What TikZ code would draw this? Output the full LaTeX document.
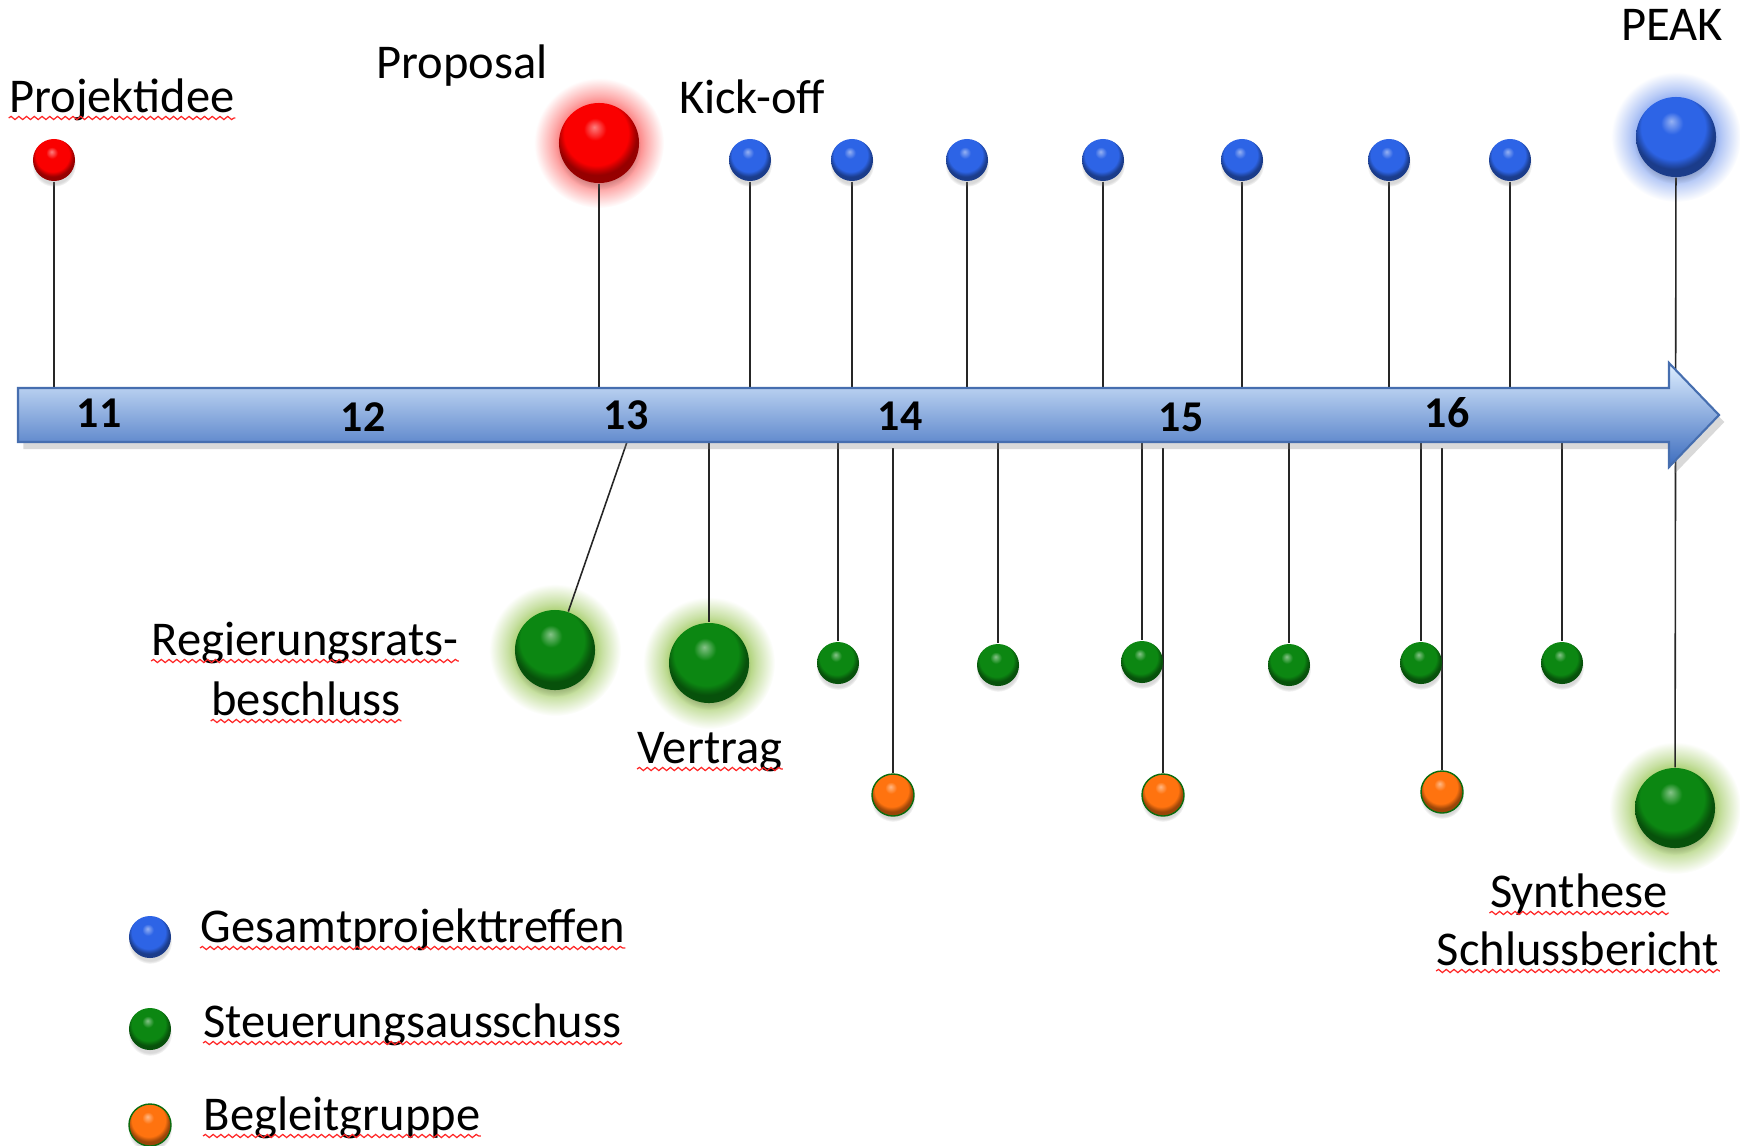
\documentclass[tikz,border=0pt]{standalone}
\usepackage{fontspec}
\setmainfont{Carlito}
\usetikzlibrary{shadows,backgrounds,decorations.pathmorphing}

\definecolor{mblue}{RGB}{45,100,230}
\definecolor{mgreen}{RGB}{12,135,18}
\definecolor{morange}{RGB}{255,115,15}
\definecolor{mred}{RGB}{250,0,0}
\definecolor{glowgreen}{RGB}{165,205,105}
\definecolor{arrowtop}{RGB}{222,238,255}
\definecolor{arrowmid}{RGB}{140,184,240}
\definecolor{arrowbot}{RGB}{60,108,190}
\definecolor{arrowedge}{RGB}{70,110,175}

\colorlet{ballc}{mblue}
\colorlet{glowc}{mblue}
% glossy ball and soft halo, both follow the current colour
\pgfdeclareradialshading[ballc]{gloss}{\pgfpoint{-3bp}{10bp}}{color(0bp)=(ballc!50!white); color(7bp)=(ballc); color(20bp)=(ballc); color(23bp)=(ballc!75!black); color(25bp)=(ballc!60!black); color(50bp)=(ballc!60!black)}
\pgfdeclareradialshading[glowc]{halo}{\pgfpoint{0bp}{0bp}}{color(0bp)=(glowc); color(14bp)=(glowc); color(18bp)=(glowc!60!white); color(25bp)=(white); color(50bp)=(white)}

\tikzset{
  knob/.style={circle, inner sep=0pt, shade, shading=gloss, /utils/exec={\colorlet{ballc}{#1}},
    circular drop shadow={shadow xshift=0pt, shadow yshift=-1.3pt, opacity=0.3, shadow scale=1.05}},
  smallsize/.style={minimum size=0.42cm},
  bigsize/.style={minimum size=0.8cm},
  rim/.style={draw=mgreen!80!black, line width=0.4pt},
  halo/.style={shade, shading=halo, /utils/exec={\colorlet{glowc}{#1}}},
  stem/.style={line width=0.45pt, black!85},
  lbl/.style={inner sep=0pt, anchor=base, font=\fontsize{13.8}{16}\selectfont},
  num/.style={inner sep=0pt, font=\bfseries\fontsize{12.5}{14}\selectfont},
  squig/.style={red!85, line width=0.35pt, decorate, decoration={snake, amplitude=0.45pt, segment length=2.2pt}}
}

\begin{document}
\begin{tikzpicture}[x=0.01cm, y=-0.01cm]
	\useasboundingbox (0,0) rectangle (1740,1145);

	% time axis
	\path[draw=arrowedge, line width=0.6pt, top color=arrowtop, middle color=arrowmid, bottom color=arrowbot,
		drop shadow={opacity=0.3, shadow xshift=1.5pt, shadow yshift=-2pt}]
		(18,388) -- (1669,388) -- (1669,363) -- (1719,415) -- (1669,467) -- (1669,442) -- (18,442) -- cycle;
	\coordinate (atop) at (0,388);
	\coordinate (abot) at (0,442);
	\coordinate (alow) at (0,448);
	\coordinate (c13) at (627,442);

	\node[num] (y11) at (99,413) {11};
	\node[num] (y12) at (363,417) {12};
	\node[num] (y13) at (626,415) {13};
	\node[num] (y14) at (900,416) {14};
	\node[num] (y15) at (1181,417) {15};
	\node[num] (y16) at (1447,413) {16};

	% above the axis
	\node[knob=mred, smallsize] (idee) at (54,160) {};
	\node[knob=mred, bigsize] (prop) at (599,143) {};
	\node[knob=mblue, smallsize] (b1) at (750,160) {};
	\node[knob=mblue, smallsize] (b2) at (852,160) {};
	\node[knob=mblue, smallsize] (b3) at (967,160) {};
	\node[knob=mblue, smallsize] (b4) at (1103,160) {};
	\node[knob=mblue, smallsize] (b5) at (1242,160) {};
	\node[knob=mblue, smallsize] (b6) at (1389,160) {};
	\node[knob=mblue, smallsize] (b7) at (1510,160) {};
	\node[knob=mblue, bigsize] (peak) at (1676,137) {};

	\node[lbl] (tidee) at (122,112) {Projektidee};
	\node[lbl] (tprop) at (462,78) {Proposal};
	\node[lbl] (tkick) at (752,113) {Kick-off};
	\node[lbl] (tpeak) at (1672,40) {PEAK};

	% below the axis
	\node[knob=mgreen, bigsize] (regr) at (555,650) {};
	\node[knob=mgreen, bigsize] (vert) at (709,663) {};
	\node[knob=mgreen, smallsize] (s1) at (838,663) {};
	\node[knob=mgreen, smallsize] (s2) at (998,665) {};
	\node[knob=mgreen, smallsize] (s3) at (1142,662) {};
	\node[knob=mgreen, smallsize] (s4) at (1289,665) {};
	\node[knob=mgreen, smallsize] (s5) at (1421,663) {};
	\node[knob=mgreen, smallsize] (s6) at (1562,663) {};
	\node[knob=morange, smallsize, rim] (o1) at (893,795) {};
	\node[knob=morange, smallsize, rim] (o2) at (1163,795) {};
	\node[knob=morange, smallsize, rim] (o3) at (1442,792) {};
	\node[knob=mgreen, bigsize] (synth) at (1675,808) {};

	\node[lbl] (tregr) at (305,655) {Regierungsrats-};
	\node[lbl] (tbesch) at (306,715) {beschluss};
	\node[lbl] (tvert) at (710,763) {Vertrag};
	\node[lbl] (tsyn) at (1579,907) {Synthese};
	\node[lbl] (tsch) at (1578,965) {Schlussbericht};

	% legend
	\node[knob=mblue, smallsize] (lg1) at (150,937) {};
	\node[knob=mgreen, smallsize] (lg2) at (150,1029) {};
	\node[knob=morange, smallsize, rim] (lg3) at (150,1125) {};
	\node[lbl, anchor=base west] (tl1) at (200,942) {Gesamtprojekttreffen};
	\node[lbl, anchor=base west] (tl2) at (203,1037) {Steuerungsausschuss};
	\node[lbl, anchor=base west] (tl3) at (203,1130) {Begleitgruppe};

	\foreach \t in {tidee, tregr, tbesch, tvert, tsyn, tsch, tl1, tl2, tl3}
		\draw[squig] ([yshift=-1.7pt]\t.base west) -- ([yshift=-1.7pt]\t.base east);

	\begin{pgfonlayer}{background}
		\shade[halo=mred!55!white] (prop.center) circle (0.65cm);
		\shade[halo=mblue!55!white] (peak.center) circle (0.65cm);
		\shade[halo=glowgreen] (regr.center) circle (0.66cm);
		\shade[halo=glowgreen] (vert.center) circle (0.66cm);
		\shade[halo=glowgreen] (synth.center) circle (0.66cm);

		\draw[stem] (idee) -- (idee |- atop);
		\draw[stem] (prop) -- (prop |- atop);
		\draw[stem] (b1) -- (b1 |- atop);
		\draw[stem] (b2) -- (b2 |- atop);
		\draw[stem] (b3) -- (b3 |- atop);
		\draw[stem] (b4) -- (b4 |- atop);
		\draw[stem] (b5) -- (b5 |- atop);
		\draw[stem] (b6) -- (b6 |- atop);
		\draw[stem] (b7) -- (b7 |- atop);
		\draw[stem] (peak) -- (synth);

		\draw[stem] (c13) -- (regr);
		\draw[stem] (vert |- abot) -- (vert);
		\draw[stem] (s1 |- abot) -- (s1);
		\draw[stem] (s2 |- abot) -- (s2);
		\draw[stem] (s3 |- abot) -- (s3);
		\draw[stem] (s4 |- abot) -- (s4);
		\draw[stem] (s5 |- abot) -- (s5);
		\draw[stem] (s6 |- abot) -- (s6);
		\draw[stem] (o1 |- alow) -- (o1);
		\draw[stem] (o2 |- alow) -- (o2);
		\draw[stem] (o3 |- alow) -- (o3);
	\end{pgfonlayer}
\end{tikzpicture}
\end{document}
